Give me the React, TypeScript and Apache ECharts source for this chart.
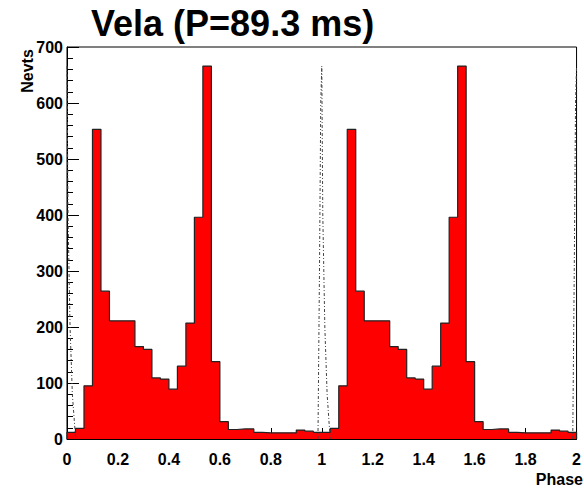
import React, { useEffect, useRef } from "react";
import * as echarts from "echarts";

// Folded event counts, 30 phase bins per rotation, shown over two rotations.
const firstRotation = [
  12, 19, 95, 553, 264, 211, 211, 211, 165, 160, 109, 107, 89, 130, 207,
  396, 666, 138, 31, 17, 18, 18, 12, 11, 11, 11, 11, 16, 14, 12,
];
const secondRotation = [
  12, 19, 95, 553, 264, 211, 211, 211, 165, 160, 109, 107, 89, 130, 207,
  396, 666, 138, 31, 17, 18, 18, 12, 11, 11, 11, 11, 16, 14, 12,
];
const binsPerRotation = 30;

// Reference radio pulse (dash-dotted), scaled to the gamma peak.
const radioPulse0: [number, number][] = [
  [0, 666], [0.004, 400], [0.012, 200], [0.021, 80], [0.034, 0],
];
const radioPulse1: [number, number][] = [
  [0.985, 0], [0.991, 300], [0.996, 600], [1.0, 666],
  [1.004, 400], [1.012, 200], [1.021, 80], [1.033, 0],
];
const radioPulse2: [number, number][] = [
  [1.985, 0], [1.991, 300], [1.996, 600], [2.0, 666],
];

const xTicks = { min: 0, max: 2, interval: 0.2 };
const yTicks = { min: 0, max: 700, interval: 100 };

const titleText = "Vela (P=89.3 ms)";
const yName = "Nevts";
const xName = "Phase";

const FONT = "'Liberation Sans', Arial, Helvetica, sans-serif";

function stepPoints(counts: number[]): [number, number][] {
  const pts: [number, number][] = [[0, 0]];
  counts.forEach((v, i) => {
    const lo = i / binsPerRotation;
    const hi = (i + 1) / binsPerRotation;
    pts.push([lo, v], [hi, v]);
  });
  pts.push([counts.length / binsPerRotation, 0]);
  return pts;
}

export default function App() {
  const ref = useRef<HTMLDivElement>(null);

  useEffect(() => {
    if (!ref.current) return;
    const chart = echarts.init(ref.current, undefined, { renderer: "svg" });
    const counts = [...firstRotation, ...secondRotation];
    const dashStyle = { color: "#444", width: 1, type: [3, 2, 1, 2] as number[] };

    chart.setOption({
      animation: false,
      backgroundColor: "#fff",
      title: {
        text: titleText,
        left: 86,
        top: 0,
        textStyle: { fontFamily: FONT, fontSize: 36, fontWeight: "bold", color: "#000" },
      },
      grid: {
        left: 67,
        right: 3,
        top: 47,
        bottom: 49,
        show: true,
        borderColor: "#000",
        borderWidth: 1,
        backgroundColor: "transparent",
      },
      xAxis: {
        type: "value",
        min: xTicks.min,
        max: xTicks.max,
        interval: xTicks.interval,
        axisLine: { show: true, onZero: false, lineStyle: { color: "#000", width: 1 } },
        axisTick: { show: true, inside: true, length: 11, lineStyle: { color: "#000" } },
        minorTick: { show: true, splitNumber: 4, length: 6, lineStyle: { color: "#000" } },
        splitLine: { show: false },
        axisLabel: {
          margin: 12,
          fontFamily: FONT,
          fontSize: 16,
          fontWeight: "bold",
          color: "#000",
          showMaxLabel: true,
          showMinLabel: true,
        },
      },
      yAxis: {
        type: "value",
        min: yTicks.min,
        max: yTicks.max,
        interval: yTicks.interval,
        axisLine: { show: true, lineStyle: { color: "#000", width: 1 } },
        axisTick: { show: true, inside: true, length: 12, lineStyle: { color: "#000" } },
        minorTick: { show: true, splitNumber: 5, length: 6, lineStyle: { color: "#000" } },
        splitLine: { show: false },
        axisLabel: {
          margin: 4,
          fontFamily: FONT,
          fontSize: 16,
          fontWeight: "bold",
          color: "#000",
        },
      },
      graphic: [
        {
          type: "text",
          x: 27,
          y: 71,
          rotation: Math.PI / 2,
          style: {
            text: yName,
            fontFamily: FONT,
            fontSize: 16,
            fontWeight: "bold",
            fill: "#000",
            align: "center",
            verticalAlign: "middle",
          },
        },
        {
          type: "text",
          x: 583,
          y: 479,
          style: {
            text: xName,
            fontFamily: FONT,
            fontSize: 16,
            fontWeight: "bold",
            fill: "#000",
            align: "right",
            verticalAlign: "middle",
          },
        },
      ],
      series: [
        {
          type: "line",
          data: stepPoints(counts),
          symbol: "none",
          lineStyle: { color: "#222", width: 1.2 },
          areaStyle: { color: "#ff0000", opacity: 1, origin: "start" },
          z: 2,
        },
        { type: "line", data: radioPulse0, symbol: "none", lineStyle: dashStyle, z: 3 },
        { type: "line", data: radioPulse1, symbol: "none", lineStyle: dashStyle, z: 3 },
        { type: "line", data: radioPulse2, symbol: "none", lineStyle: dashStyle, z: 3 },
      ],
    });

    return () => chart.dispose();
  }, []);

  return (
    <div
      ref={ref}
      style={{ position: "fixed", left: 0, top: 0, width: 584, height: 488 }}
    />
  );
}
